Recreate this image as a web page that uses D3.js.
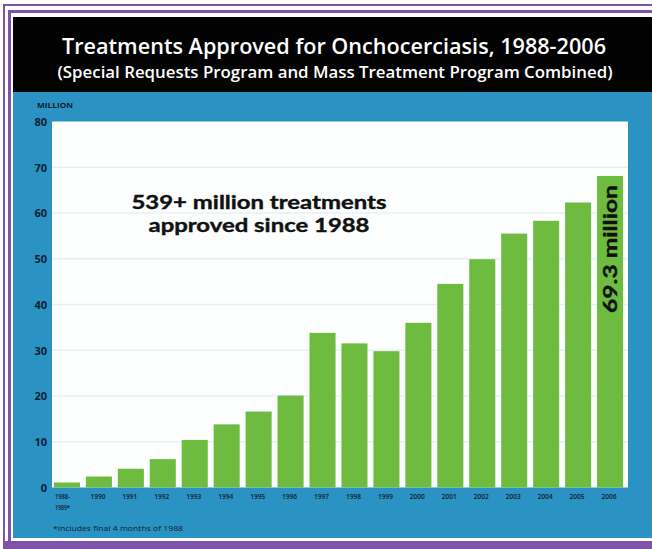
<!DOCTYPE html>
<html>
<head>
<meta charset="utf-8">
<script src="https://cdn.jsdelivr.net/npm/d3@7"></script>
<style>
  html, body { margin: 0; padding: 0; background: #ffffff; }
  svg { display: block; }
</style>
</head>
<body>
<svg id="chart" width="652" height="549"></svg>
<script>
// ---- data ----
const categories = ["1988-1989*", "1990", "1991", "1992", "1993", "1994", "1995", "1996", "1997",
                    "1998", "1999", "2000", "2001", "2002", "2003", "2004", "2005", "2006"];
const treatments = [1.1, 2.4, 4.1, 6.2, 10.4, 13.8, 16.6, 20.1, 33.8,
                    31.5, 29.8, 36.0, 44.5, 49.9, 55.5, 58.3, 62.3, 68.1];
const yTicks = [0, 10, 20, 30, 40, 50, 60, 70, 80];
const titleText = "Treatments Approved for Onchocerciasis, 1988-2006";
const subtitleText = "(Special Requests Program and Mass Treatment Program Combined)";
const calloutLines = ["539+ million treatments", "approved since 1988"];
const lastBarLabel = "69.3 million";
const unitLabel = "MILLION";
const footnote = "*includes final 4 months of 1988";

// ---- styles ----
const purple = "#7d52a8";
const blue = "#2b93c3";
const green = "#6dbb3f";
const navy = "#0f1d33";
const font = "'Open Sans', 'Noto Sans', sans-serif";
const boldFont = "Lato, 'Open Sans', sans-serif";

const svg = d3.select("#chart");

// frame: double purple lines
svg.append("rect").attr("x", 0).attr("y", 0).attr("width", 652).attr("height", 549).attr("fill", "#fff");
svg.append("rect").attr("x", 3).attr("y", 4).attr("width", 660).attr("height", 545).attr("fill", purple);
svg.append("rect").attr("x", 5).attr("y", 6).attr("width", 660).attr("height", 535).attr("fill", "#fff");
svg.append("rect").attr("x", 8).attr("y", 10).attr("width", 660).attr("height", 533).attr("fill", purple);
svg.append("rect").attr("x", 11).attr("y", 13).attr("width", 660).attr("height", 528).attr("fill", "#fff");
svg.append("rect").attr("x", 3).attr("y", 545).attr("width", 660).attr("height", 4).attr("fill", purple);

// header and blue panel
svg.append("rect").attr("x", 13).attr("y", 17).attr("width", 640).attr("height", 75).attr("fill", "#020202");
svg.append("rect").attr("x", 13).attr("y", 92).attr("width", 640).attr("height", 446).attr("fill", blue);

svg.append("text").attr("x", 334).attr("y", 54)
  .attr("text-anchor", "middle").attr("fill", "#fff")
  .attr("font-family", font).attr("font-weight", 600).attr("font-size", 21)
  .attr("textLength", 544).attr("lengthAdjust", "spacingAndGlyphs")
  .text(titleText);
svg.append("text").attr("x", 335).attr("y", 78)
  .attr("text-anchor", "middle").attr("fill", "#fff")
  .attr("font-family", font).attr("font-weight", 600).attr("font-size", 15.5)
  .attr("textLength", 555).attr("lengthAdjust", "spacingAndGlyphs")
  .text(subtitleText);

// plot area
const plot = { left: 52, right: 628, top: 121.5, bottom: 487.5 };
svg.append("rect").attr("x", plot.left).attr("y", plot.top)
  .attr("width", plot.right - plot.left).attr("height", plot.bottom - plot.top)
  .attr("fill", "#fdfefe");

const x = d3.scaleBand().domain(categories).range([52, 625]).paddingInner(0.185).paddingOuter(0.06);
const y = d3.scaleLinear().domain([0, 80]).range([plot.bottom, plot.top]);

// faint gridlines
svg.append("g").selectAll("line").data(yTicks.filter(d => d > 0 && d < 80)).join("line")
  .attr("x1", plot.left).attr("x2", plot.right)
  .attr("y1", d => y(d)).attr("y2", d => y(d))
  .attr("stroke", "#e9eff3").attr("stroke-width", 1.5);

// bars
svg.append("g").selectAll("rect").data(categories).join("rect")
  .attr("x", d => x(d)).attr("width", x.bandwidth())
  .attr("y", (d, i) => y(treatments[i]))
  .attr("height", (d, i) => y(0) - y(treatments[i]))
  .attr("fill", green);

// y axis
const yAxis = svg.append("g").attr("transform", `translate(${plot.left - 5},0)`)
  .call(d3.axisLeft(y).tickValues(yTicks).tickSize(0).tickPadding(0).tickFormat(d3.format("d")));
yAxis.select(".domain").remove();
yAxis.selectAll("text").attr("font-family", font).attr("font-weight", 700)
  .attr("font-size", 11).attr("fill", navy).attr("dy", "0.35em");

svg.append("text").attr("x", 37).attr("y", 108)
  .attr("fill", navy).attr("font-family", font).attr("font-weight", 700)
  .attr("font-size", 6.5).attr("textLength", 36).attr("lengthAdjust", "spacingAndGlyphs")
  .text(unitLabel);

// x axis
const xAxis = svg.append("g").attr("transform", `translate(0,${plot.bottom})`)
  .call(d3.axisBottom(x).tickSize(0).tickPadding(0).tickFormat(""));
xAxis.select(".domain").remove();
xAxis.selectAll(".tick").each(function(d) {
  const g = d3.select(this);
  const parts = d.includes("-") ? [d.split("-")[0] + "-", d.split("-")[1]] : [d];
  const px = parts.length > 1 ? -x.bandwidth() / 2 + 1 : -1;
  const t = g.append("text").attr("fill", navy).attr("font-family", font)
    .attr("font-weight", 600).attr("font-size", 7.5)
    .attr("text-anchor", parts.length > 1 ? "start" : "middle");
  parts.forEach((p, i) => {
    t.append("tspan").attr("x", px)
      .attr("y", 11 + i * 11).attr("textLength", 15)
      .attr("lengthAdjust", "spacingAndGlyphs").text(p);
  });
});

svg.append("text").attr("x", 53).attr("y", 531)
  .attr("fill", navy).attr("font-family", font).attr("font-size", 7)
  .attr("textLength", 130).attr("lengthAdjust", "spacingAndGlyphs")
  .text(footnote);

// callout
svg.append("g").selectAll("text").data(calloutLines).join("text")
  .attr("x", 259).attr("y", (d, i) => 209 + i * 23)
  .attr("text-anchor", "middle").attr("fill", "#111")
  .attr("stroke", "#111").attr("stroke-width", 0.4)
  .attr("font-family", boldFont).attr("font-weight", 700).attr("font-size", 19)
  .attr("textLength", (d, i) => i === 0 ? 255 : 221).attr("lengthAdjust", "spacingAndGlyphs")
  .text(d => d);

// label inside last bar
const last = categories[categories.length - 1];
const lx = x(last) + x.bandwidth() / 2 + 7;
const ly = 249;
svg.append("text").attr("transform", `translate(${lx},${ly}) rotate(-90)`)
  .attr("text-anchor", "middle").attr("fill", "#111")
  .attr("stroke", "#111").attr("stroke-width", 0.4)
  .attr("font-family", boldFont).attr("font-weight", 700).attr("font-size", 19)
  .attr("textLength", 128).attr("lengthAdjust", "spacingAndGlyphs")
  .text(lastBarLabel);
</script>
</body>
</html>
